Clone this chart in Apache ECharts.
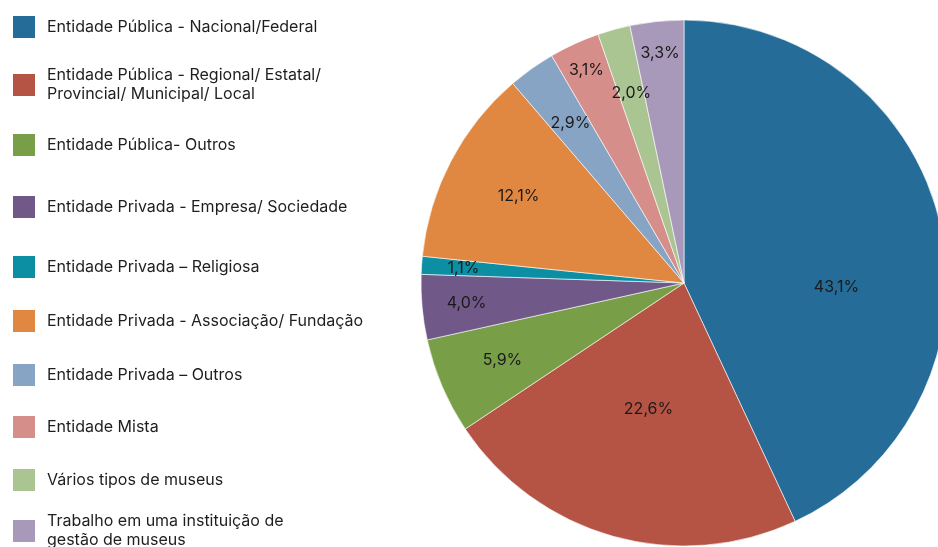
<!DOCTYPE html>
<html>
<head>
<meta charset="utf-8">
<script src="https://cdn.jsdelivr.net/npm/echarts@6/dist/echarts.min.js"></script>
<style>
  html, body { margin: 0; padding: 0; background: #fff; }
  #chart { width: 938px; height: 547px; }
</style>
</head>
<body>
<div id="chart"></div>
<script>
// categories, clockwise from 12 o'clock
const categories = [
  'Entidade Pública - Nacional/Federal',
  'Entidade Pública - Regional/ Estatal/ Provincial/ Municipal/ Local',
  'Entidade Pública- Outros',
  'Entidade Privada - Empresa/ Sociedade',
  'Entidade Privada – Religiosa',
  'Entidade Privada - Associação/ Fundação',
  'Entidade Privada – Outros',
  'Entidade Mista',
  'Vários tipos de museus',
  'Trabalho em uma instituição de gestão de museus'
]
const legendLabels = [
  'Entidade Pública - Nacional/Federal',
  'Entidade Pública - Regional/ Estatal/\nProvincial/ Municipal/ Local',
  'Entidade Pública- Outros',
  'Entidade Privada - Empresa/ Sociedade',
  'Entidade Privada – Religiosa',
  'Entidade Privada - Associação/ Fundação',
  'Entidade Privada – Outros',
  'Entidade Mista',
  'Vários tipos de museus',
  'Trabalho em uma instituição de\ngestão de museus'
]
const shares = [43.1, 22.6, 5.9, 4.0, 1.1, 12.1, 2.9, 3.1, 2.0, 3.3]

// styling / layout
const colors = ['#256c99', '#b55345', '#789f48', '#705889', '#0d8fa3',
  '#e08841', '#88a4c4', '#d68e8b', '#aac591', '#a899bb']
const legendTops = [14, 73, 132, 194, 254, 308, 362, 414, 467, 519] // icon tops
const labelRadius = [0.58, 0.50, 0.75, 0.83, 0.84, 0.71, 0.745, 0.89, 0.75, 0.88]
const labelTurn = [14, 0, 0, 0, 0, 0, 0, 0, 0, 0]

const CX = 684, CY = 283, R = 263
const FONT = 'Inter, "Noto Sans", sans-serif'
const ICON = 24, LINE_H = 19

const total = shares.reduce((a, b) => a + b, 0)
const midAngles = []
let acc = 0
shares.forEach(v => {
  midAngles.push((acc + v / 2) / total * 360)
  acc += v
})

const chart = echarts.init(document.getElementById('chart'), null, { renderer: 'canvas' })

const option = {
  animation: false,
  color: colors,
  legend: categories.map((name, i) => {
    const lines = legendLabels[i].split('\n').length
    const extra = Math.max(0, lines * LINE_H - ICON) / 2
    return {
      data: [name],
      orient: 'vertical',
      left: 11,
      top: legendTops[i] - extra,
      padding: 0,
      icon: 'rect',
      itemWidth: ICON,
      itemHeight: ICON,
      selectedMode: false,
      formatter: () => legendLabels[i],
      textStyle: {
        fontFamily: FONT,
        fontSize: 16,
        lineHeight: LINE_H,
        color: '#1e1e1e',
        padding: [0, 0, 0, 6]
      }
    }
  }),
  series: [{
    type: 'pie',
    center: [CX, CY],
    radius: R,
    startAngle: 90,
    clockwise: true,
    avoidLabelOverlap: false,
    itemStyle: { borderColor: '#fff', borderWidth: 0.6 },
    label: {
      show: true,
      position: 'inside',
      fontFamily: FONT,
      fontSize: 16,
      color: '#1a1a1a',
      formatter: p => p.value.toFixed(1).replace('.', ',') + '%'
    },
    labelLine: { show: false },
    labelLayout: p => {
      const i = p.dataIndex
      const a = (midAngles[i] + labelTurn[i]) * Math.PI / 180
      const r = R * labelRadius[i]
      return { x: CX + r * Math.sin(a), y: CY - r * Math.cos(a), align: 'center', verticalAlign: 'middle' }
    },
    data: categories.map((name, i) => ({ name, value: shares[i] }))
  }]
}

chart.setOption(option)
</script>
</body>
</html>
